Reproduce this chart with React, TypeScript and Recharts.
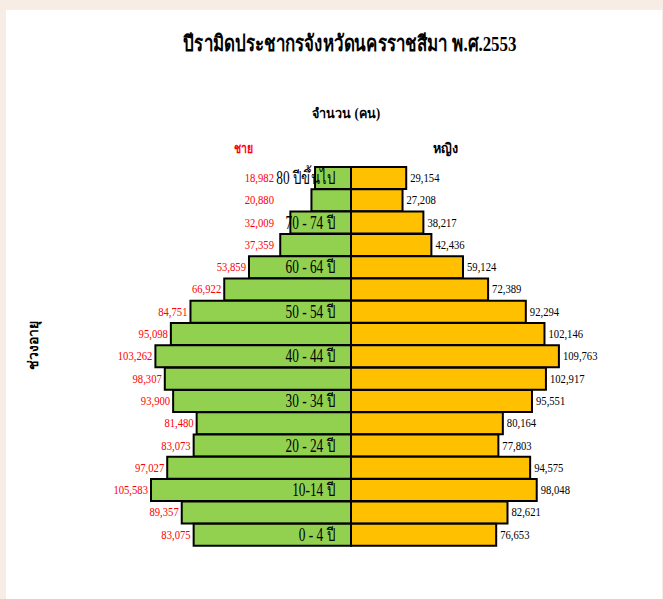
import React from "react";
import { BarChart, Bar, XAxis, YAxis, LabelList } from "recharts";

// กลุ่มอายุ จากบนลงล่าง
const AGE_GROUPS = [
  "80 ปีขึ้นไป", "75 - 79 ปี", "70 - 74 ปี", "65 - 69 ปี", "60 - 64 ปี",
  "55 - 59 ปี", "50 - 54 ปี", "45 - 49 ปี", "40 - 44 ปี", "35 - 39 ปี",
  "30 - 34 ปี", "25 - 29 ปี", "20 - 24 ปี", "15 - 19 ปี", "10-14 ปี",
  "5 - 9 ปี", "0 - 4 ปี",
];

const MALE = [
  18982, 20880, 32009, 37359, 53859, 66922, 84751, 95098, 103262,
  98307, 93900, 81480, 83073, 97027, 105583, 89357, 83075,
];

const FEMALE = [
  29154, 27208, 38217, 42436, 59124, 72389, 92294, 102146, 109763,
  102917, 95551, 80164, 77803, 94575, 98048, 82621, 76653,
];

const data = AGE_GROUPS.map((age, i) => ({
  age,
  male: -MALE[i],
  female: FEMALE[i],
}));

const FONT = '"Liberation Serif", "Times New Roman", serif';
const fmt = (v: number) => Math.abs(v).toLocaleString("en-US");

// ฟอนต์ต้นฉบับเป็นแบบแคบ เลยบีบแนวนอนเอา
const Squeezed = ({ x, y, sx, anchor, fill, size, children }: any) => (
  <g transform={`translate(${x},${y}) scale(${sx},1)`}>
    <text x={0} y={0} textAnchor={anchor} fill={fill} fontSize={size} fontFamily={FONT}>
      {children}
    </text>
  </g>
);

// ตัวเลขชาย (สีแดง) อยู่ทางซ้ายของแท่ง
// แท่งสั้นๆ ด้านบน ดันตัวเลขออกไปไม่ให้ทับป้ายอายุ
const MaleValue = (props: any) => {
  const { x, y, width, height, value } = props;
  const left = Math.min(x, x + width);
  return (
    <Squeezed x={Math.min(left - 3, 268)} y={y + height / 2 + 4} sx={0.82} anchor="end" fill="#ff0000" size={13}>
      {fmt(value)}
    </Squeezed>
  );
};

// ป้ายกลุ่มอายุ วางชิดแกนกลางทุกๆ 2 แถว
const AgeLabel = (props: any) => {
  const { x, y, width, height, value, index } = props;
  if (index % 2 !== 0) return null;
  const right = Math.max(x, x + width);
  return (
    <Squeezed x={right - 16} y={y + height / 2 + 6} sx={0.74} anchor="end" fill="#000" size={18}>
      {value}
    </Squeezed>
  );
};

const FemaleValue = (props: any) => {
  const { x, y, width, height, value } = props;
  const right = Math.max(x, x + width);
  return (
    <Squeezed x={right + 4} y={y + height / 2 + 4} sx={0.82} anchor="start" fill="#000" size={13}>
      {fmt(value)}
    </Squeezed>
  );
};

const squeeze = (s: number) => ({ transform: `scaleX(${s})`, transformOrigin: "center" });

export default function App() {
  return (
    <div style={{ position: "fixed", left: 0, top: 0, width: 663, height: 599, background: "#f8ede5" }}>
      <div style={{ position: "absolute", left: 6, top: 10, width: 656, height: 589, background: "#fff" }}>
        <div style={{ position: "absolute", left: 0, width: 688, top: 16, textAlign: "center", fontFamily: FONT, fontWeight: "bold", fontSize: 22, color: "#000", ...squeeze(0.77) }}>
          ปีรามิดประชากรจังหวัดนครราชสีมา พ.ศ.2553
        </div>
        <div style={{ position: "absolute", left: 0, width: 680, top: 92, textAlign: "center", fontFamily: FONT, fontWeight: "bold", fontSize: 14, ...squeeze(0.9) }}>
          จำนวน (คน)
        </div>
        <div style={{ position: "absolute", left: 225, top: 127, width: 22, textAlign: "center", fontFamily: FONT, fontWeight: "bold", fontSize: 14, color: "#ff0000", ...squeeze(0.75) }}>
          ชาย
        </div>
        <div style={{ position: "absolute", left: 425, top: 127, width: 30, textAlign: "center", fontFamily: FONT, fontWeight: "bold", fontSize: 14, color: "#000", ...squeeze(0.9) }}>
          หญิง
        </div>
        <div style={{ position: "absolute", left: 27, top: 335, transform: "translate(-50%, -50%) rotate(-90deg)", fontFamily: FONT, fontWeight: "bold", fontSize: 14, whiteSpace: "nowrap" }}>
          ช่วงอายุ
        </div>
        <div style={{ position: "absolute", left: 0, top: 0 }}>
          <BarChart
            width={656}
            height={589}
            data={data}
            layout="vertical"
            stackOffset="sign"
            barCategoryGap={0}
            margin={{ top: 157, bottom: 53, left: 117.7, right: 83.7 }}
          >
            <XAxis type="number" domain={[-120000, 120000]} hide />
            <YAxis type="category" dataKey="age" hide />
            <Bar dataKey="male" stackId="a" fill="#92d050" stroke="#000" strokeWidth={2} isAnimationActive={false}>
              <LabelList dataKey="male" content={MaleValue} />
              <LabelList dataKey="age" content={AgeLabel} />
            </Bar>
            <Bar dataKey="female" stackId="a" fill="#ffc000" stroke="#000" strokeWidth={2} isAnimationActive={false}>
              <LabelList dataKey="female" content={FemaleValue} />
            </Bar>
          </BarChart>
        </div>
      </div>
    </div>
  );
}
